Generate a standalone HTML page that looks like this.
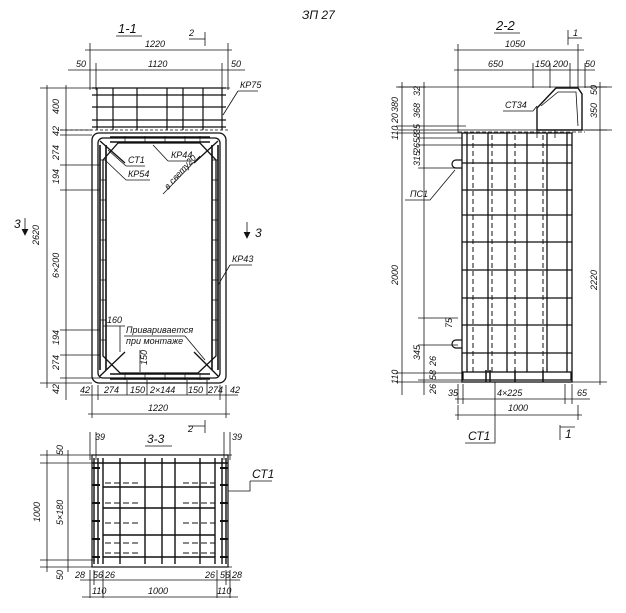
<!DOCTYPE html>
<html><head><meta charset="utf-8"><style>
html,body{margin:0;padding:0;background:#fff;}
svg{display:block}
text{font-family:"Liberation Sans","DejaVu Sans",sans-serif;font-style:italic;font-size:9px;fill:#111}
.t{font-size:12px}
</style></head><body>
<svg width="626" height="613" viewBox="0 0 626 613" xmlns="http://www.w3.org/2000/svg" stroke="#111" fill="none" stroke-width="0.8">
<text x="302" y="19" class="t" stroke="none" style="font-size:12px">ЗП 27</text>

<!-- ===== Section 1-1 ===== -->
<text x="118" y="33" class="t" stroke="none" style="font-size:13px">1-1</text>
<line x1="116" y1="36" x2="142" y2="36"/>
<text x="189" y="36" stroke="none">2</text><line x1="189" y1="39" x2="205" y2="39"/><line x1="205" y1="32" x2="205" y2="46"/>
<!-- top dims -->
<line x1="85" y1="50" x2="232" y2="50"/><line x1="90" y1="43" x2="90" y2="90"/><line x1="228" y1="43" x2="228" y2="90"/>
<text x="145" y="47" stroke="none">1220</text>
<line x1="68" y1="70" x2="245" y2="70"/><line x1="96" y1="63" x2="96" y2="90"/><line x1="222" y1="63" x2="222" y2="90"/>
<text x="148" y="67" stroke="none">1120</text><text x="76" y="67" stroke="none">50</text><text x="231" y="67" stroke="none">50</text>
<!-- top grid -->
<g stroke-width="1.2">
<line x1="92" y1="88" x2="226" y2="88"/><line x1="92" y1="95" x2="226" y2="95"/><line x1="92" y1="107" x2="226" y2="107"/><line x1="92" y1="120" x2="226" y2="120"/><line x1="92" y1="127" x2="226" y2="127"/>
<line x1="97" y1="88" x2="97" y2="130"/><line x1="113" y1="88" x2="113" y2="130"/><line x1="137" y1="88" x2="137" y2="130"/><line x1="167" y1="88" x2="167" y2="130"/><line x1="183" y1="88" x2="183" y2="130"/><line x1="203" y1="88" x2="203" y2="130"/><line x1="222" y1="88" x2="222" y2="130"/>
</g>
<line x1="40" y1="88" x2="230" y2="88"/>
<line x1="60" y1="130" x2="230" y2="130" stroke-dasharray="3,2"/>
<!-- body -->
<g stroke-width="1.3">
<rect x="92" y="133" width="134" height="250" rx="7"/>
<rect x="98" y="138" width="122" height="240" rx="5"/>
<path d="M118 143 L200 143 L216 160 L216 356 L198 373 L120 373 L103 356 L103 160 Z"/>
<line x1="100" y1="141" x2="125" y2="163"/><line x1="218" y1="141" x2="194" y2="163"/>
<line x1="100" y1="376" x2="125" y2="352"/><line x1="218" y1="376" x2="194" y2="352"/>
</g>
<g stroke-width="1.6">
<path d="M100 145 v225 M106 145 v225 M212 145 v225 M218 145 v225"/>
<path d="M110 137 h100 M110 142 h100 M110 374 h100 M110 379 h100"/>
</g>
<g stroke-width="0.7">
<path d="M100 160h6M100 180h6M100 200h6M100 220h6M100 240h6M100 260h6M100 280h6M100 300h6M100 320h6M100 340h6M212 160h6M212 180h6M212 200h6M212 220h6M212 240h6M212 260h6M212 280h6M212 300h6M212 320h6M212 340h6"/>
<path d="M125 136v7M145 136v7M165 136v7M185 136v7M200 136v7M125 373v7M145 373v7M165 373v7M185 373v7M200 373v7"/>
</g>
<!-- left dims -->
<line x1="47" y1="85" x2="47" y2="388"/><line x1="66" y1="85" x2="66" y2="400"/>
<line x1="40" y1="383" x2="92" y2="383"/>
<path d="M60 130h32M60 135h32M60 165h40M60 190h40M60 330h40M60 355h40M60 378h40"/>
<g stroke="none">
<text transform="translate(39,245) rotate(-90)">2620</text>
<text transform="translate(59,114) rotate(-90)">400</text>
<text transform="translate(59,136) rotate(-90)">42</text>
<text transform="translate(59,160) rotate(-90)">274</text>
<text transform="translate(59,184) rotate(-90)">194</text>
<text transform="translate(59,278) rotate(-90)">6×200</text>
<text transform="translate(59,345) rotate(-90)">194</text>
<text transform="translate(59,370) rotate(-90)">274</text>
<text transform="translate(59,394) rotate(-90)">42</text>
</g>
<!-- 3 markers -->
<text x="14" y="228" class="t" stroke="none">3</text><line x1="25" y1="218" x2="25" y2="235"/><path d="M22 229 L25 235 L28 229" fill="#111"/>
<text x="255" y="237" class="t" stroke="none">3</text><line x1="247" y1="222" x2="247" y2="238"/><path d="M244 232 L247 238 L250 232" fill="#111"/>
<!-- bottom dims -->
<line x1="80" y1="395" x2="238" y2="395"/>
<path d="M92 385v15M98 385v15M127 380v15M147 380v15M187 380v15M207 380v15M220 385v15M226 385v15"/>
<g stroke="none"><text x="80" y="393">42</text><text x="104" y="393">274</text><text x="130" y="393">150</text><text x="150" y="393">2×144</text><text x="188" y="393">150</text><text x="208" y="393">274</text><text x="230" y="393">42</text></g>
<line x1="88" y1="414" x2="230" y2="414"/><line x1="92" y1="400" x2="92" y2="418"/><line x1="226" y1="400" x2="226" y2="418"/>
<text x="148" y="411" stroke="none">1220</text>
<text x="188" y="432" stroke="none">2</text><line x1="188" y1="426" x2="205" y2="426"/><line x1="205" y1="420" x2="205" y2="433"/>
<!-- labels -->
<text x="240" y="88" stroke="none">КР75</text><line x1="238" y1="91" x2="258" y2="91"/><line x1="238" y1="91" x2="223" y2="115"/>
<text x="171" y="158" stroke="none">КР44</text><line x1="168" y1="161" x2="192" y2="161"/><line x1="168" y1="161" x2="153" y2="145"/>
<text x="128" y="163" stroke="none">СТ1</text><line x1="126" y1="166" x2="145" y2="166"/><line x1="126" y1="166" x2="108" y2="150"/>
<text x="128" y="177" stroke="none">КР54</text><line x1="126" y1="180" x2="150" y2="180"/><line x1="126" y1="180" x2="105" y2="160"/>
<text transform="translate(168,190) rotate(-48)" stroke="none">в свету20</text><line x1="163" y1="194" x2="200" y2="156"/>
<text x="232" y="262" stroke="none">КР43</text><line x1="230" y1="265" x2="252" y2="265"/><line x1="230" y1="265" x2="218" y2="285"/>
<text x="107" y="323" stroke="none">160</text><line x1="103" y1="326" x2="125" y2="326"/><line x1="120" y1="326" x2="120" y2="352"/>
<text x="126" y="333" stroke="none">Приваривается</text><text x="126" y="344" stroke="none">при монтаже</text>
<line x1="124" y1="336" x2="185" y2="336"/><line x1="185" y1="336" x2="205" y2="360"/>
<text transform="translate(147,365) rotate(-90)" stroke="none">150</text><line x1="140" y1="350" x2="140" y2="372"/>

<!-- ===== Section 2-2 ===== -->
<text x="496" y="30" class="t" stroke="none" style="font-size:13px">2-2</text><line x1="494" y1="33" x2="520" y2="33"/>
<text x="573" y="36" stroke="none">1</text><line x1="568" y1="30" x2="568" y2="45"/><line x1="568" y1="38" x2="582" y2="38"/>
<line x1="454" y1="50" x2="584" y2="50"/><line x1="458" y1="44" x2="458" y2="133"/><line x1="578" y1="44" x2="578" y2="88"/>
<text x="505" y="47" stroke="none">1050</text>
<line x1="454" y1="70" x2="595" y2="70"/><path d="M533 63v25M550 63v25M570 63v25M585 63v25"/>
<g stroke="none"><text x="488" y="67">650</text><text x="535" y="67">150</text><text x="553" y="67">200</text><text x="585" y="67">50</text></g>
<line x1="398" y1="87" x2="612" y2="87"/><line x1="398" y1="130" x2="612" y2="130"/>
<line x1="458" y1="132" x2="585" y2="132" stroke-dasharray="4,2"/>
<!-- CT34 cap -->
<path d="M556 88 L578 88 L582 94 L582 130 L537 130 L537 108 Z" stroke-width="1.4"/>
<path d="M541 106 L558 92 L576 92 L578 126" stroke-width="0.8"/>
<path d="M537 130v8M555 130v8"/>
<!-- body -->
<rect x="462" y="133" width="110" height="249" stroke-width="1.3"/>
<g stroke-width="1.3">
<line x1="467" y1="133" x2="467" y2="372"/><line x1="488" y1="133" x2="488" y2="372"/><line x1="507" y1="133" x2="507" y2="372"/><line x1="527" y1="133" x2="527" y2="372"/><line x1="547" y1="133" x2="547" y2="372"/><line x1="567" y1="133" x2="567" y2="372"/>
<path d="M462 145h110M462 163h110M462 190h110M462 215h110M462 242h110M462 270h110M462 298h110M462 325h110M462 353h110"/>
</g>
<g stroke-width="1" stroke-dasharray="5,3">
<line x1="473" y1="135" x2="473" y2="372"/><line x1="492" y1="135" x2="492" y2="372"/><line x1="515" y1="135" x2="515" y2="372"/><line x1="543" y1="135" x2="543" y2="372"/>
</g>
<rect x="463" y="372" width="108" height="8" stroke-width="1.3"/>
<path d="M486 370v12M490 370v12M515 370v12M543 370v12" stroke-width="1.5"/>
<!-- PC1 bumps -->
<path d="M462 160 h-6 a4 4 0 0 0 0 8 h6" stroke-width="1.2"/>
<path d="M462 340 h-6 a4 4 0 0 0 0 8 h6" stroke-width="1.2"/>
<!-- left dims -->
<line x1="402" y1="82" x2="402" y2="395"/><line x1="424" y1="82" x2="424" y2="395"/>
<path d="M396 87h30M396 126h70M396 133h66M418 138h44M418 145h44M418 168h40M396 373h66M418 380h44M396 382h66M418 318h40M418 345h40"/>
<g stroke="none">
<text transform="translate(398,112) rotate(-90)">380</text>
<text transform="translate(398,140) rotate(-90)">110 20</text>
<text transform="translate(398,285) rotate(-90)">2000</text>
<text transform="translate(398,384) rotate(-90)">110</text>
<text transform="translate(420,96) rotate(-90)">32</text>
<text transform="translate(420,118) rotate(-90)">368</text>
<text transform="translate(420,134) rotate(-90)">35</text>
<text transform="translate(420,143) rotate(-90)">58</text>
<text transform="translate(420,153) rotate(-90)">26</text>
<text transform="translate(420,166) rotate(-90)">315</text>
<text transform="translate(452,328) rotate(-90)">75</text>
<text transform="translate(420,360) rotate(-90)">345</text>
<text transform="translate(436,366) rotate(-90)">26</text>
<text transform="translate(436,380) rotate(-90)">58</text>
<text transform="translate(436,394) rotate(-90)">26</text>
</g>
<!-- right dims -->
<line x1="600" y1="82" x2="600" y2="385"/><path d="M585 87h22M585 130h22M572 382h35"/>
<g stroke="none"><text transform="translate(597,95) rotate(-90)">50</text><text transform="translate(597,118) rotate(-90)">350</text><text transform="translate(597,290) rotate(-90)">2220</text></g>
<!-- bottom dims -->
<line x1="455" y1="399" x2="590" y2="399"/><path d="M458 384v20M463 384v20M565 384v20M572 384v20"/>
<g stroke="none"><text x="448" y="396">35</text><text x="497" y="396">4×225</text><text x="577" y="396">65</text></g>
<line x1="455" y1="415" x2="582" y2="415"/><line x1="458" y1="405" x2="458" y2="420"/><line x1="578" y1="405" x2="578" y2="420"/>
<text x="508" y="411" stroke="none">1000</text>
<text x="468" y="440" class="t" stroke="none">СТ1</text><path d="M465 443h30V382"/>
<text x="565" y="438" class="t" stroke="none">1</text><path d="M560 425v15M560 427h15"/>
<text x="410" y="197" stroke="none">ПС1</text><path d="M405 200h25L455 170"/>
<text x="505" y="108" stroke="none">СТ34</text><path d="M503 111h30L537 106"/>

<!-- ===== Section 3-3 ===== -->
<text x="147" y="443" class="t" stroke="none">3-3</text><line x1="145" y1="446" x2="172" y2="446"/>
<text x="95" y="440" stroke="none">39</text><text x="232" y="440" stroke="none">39</text>
<line x1="90" y1="432" x2="90" y2="460"/><line x1="96" y1="432" x2="96" y2="460"/><line x1="224" y1="432" x2="224" y2="460"/><line x1="230" y1="432" x2="230" y2="460"/>
<line x1="40" y1="455" x2="232" y2="455"/><line x1="40" y1="567" x2="232" y2="567"/>
<rect x="92" y="455" width="136" height="112" stroke-width="1.2"/>
<g stroke-width="1.4">
<path d="M103 458v106M120 458v106M145 458v106M162 458v106M175 458v106M200 458v106M215 458v106"/>
<path d="M92 463h136M103 487h112M103 508h112M103 535h112M103 557h112"/>
<path d="M94 458v106M98 458v106M222 458v106M226 458v106"/>
</g>
<g stroke-width="1" stroke-dasharray="6,3">
<path d="M105 463h35M183 463h32M105 483h35M183 483h32M105 503h35M183 503h32M105 523h35M183 523h32M105 543h35M183 543h32M105 553h35M183 553h32"/>
</g>
<path d="M92 468h8M92 485h8M92 503h8M92 521h8M92 539h8M92 557h8M220 468h8M220 485h8M220 503h8M220 521h8M220 539h8M220 557h8" stroke-width="2"/>
<line x1="47" y1="450" x2="47" y2="572"/><line x1="68" y1="450" x2="68" y2="572"/>
<path d="M40 463h55M40 560h55"/>
<g stroke="none">
<text transform="translate(40,522) rotate(-90)">1000</text>
<text transform="translate(63,525) rotate(-90)">5×180</text>
<text transform="translate(63,455) rotate(-90)">50</text>
<text transform="translate(63,580) rotate(-90)">50</text>
</g>
<line x1="80" y1="580" x2="240" y2="580"/><path d="M90 570v28M94 570v15M103 570v28M217 570v28M226 570v15M230 570v28"/>
<g stroke="none"><text x="75" y="578">28</text><text x="93" y="578">56</text><text x="105" y="578">26</text><text x="205" y="578">26</text><text x="220" y="578">56</text><text x="232" y="578">28</text></g>
<line x1="82" y1="597" x2="238" y2="597"/>
<g stroke="none"><text x="92" y="594">110</text><text x="148" y="594">1000</text><text x="217" y="594">110</text></g>
<text x="252" y="478" class="t" stroke="none">СТ1</text><path d="M250 481h22M250 481v10h-22"/>
</svg>
</body></html>
